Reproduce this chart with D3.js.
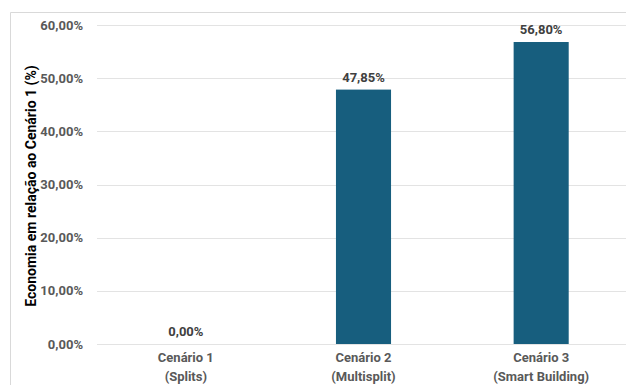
<!DOCTYPE html>
<html><head><meta charset="utf-8">
<script src="https://cdn.jsdelivr.net/npm/d3@7"></script>
<style>body{margin:0;background:#fff;} svg{display:block;}</style>
</head><body>
<script>
const categories = [["Cenário 1","(Splits)"],["Cenário 2","(Multisplit)"],["Cenário 3","(Smart Building)"]];
const values = [0.0, 47.85, 56.80];
const valueLabels = ["0,00%","47,85%","56,80%"];
const yTicks = [0,10,20,30,40,50,60];
const yTickLabels = ["0,00%","10,00%","20,00%","30,00%","40,00%","50,00%","60,00%"];
const yTitle = "Economia em relação ao Cenário 1 (%)";

(function(){
const W=626,H=385;
const svg=d3.select("body").append("svg").attr("width",W).attr("height",H);
const font="Roboto, 'Noto Sans', sans-serif";
svg.append("path").attr("d",`M10.5,${H}V12.5H${W}`).attr("fill","none").attr("stroke","#d9d9d9");

const mL=97, mR=630, mT=25, mB=344;
const x=d3.scaleBand().domain(d3.range(categories.length)).range([mL,mR]).paddingInner(0.69).paddingOuter(0.345);
const y=d3.scaleLinear().domain([0,60]).range([mB,mT]);

const g=svg.append("g");
g.selectAll("line.grid").data(yTicks).join("line")
 .attr("x1",mL).attr("x2",W).attr("y1",d=>Math.round(y(d))+0.5).attr("y2",d=>Math.round(y(d))+0.5)
 .attr("stroke","#e3e3e3").attr("stroke-width",1);

g.selectAll("text.yt").data(yTicks).join("text")
 .attr("x",83).attr("y",d=>y(d)+4.5).attr("text-anchor","end")
 .attr("font-family",font).attr("font-weight","bold").attr("font-size",13).attr("fill","#595959")
 .text((d,i)=>yTickLabels[i]);

g.selectAll("rect.bar").data(values).join("rect")
 .attr("x",(d,i)=>x(i)).attr("width",x.bandwidth())
 .attr("y",d=>y(d)).attr("height",d=>y(0)-y(d)).attr("fill","#175e7e");

g.selectAll("text.vl").data(values).join("text")
 .attr("x",(d,i)=>x(i)+x.bandwidth()/2).attr("y",d=>y(d)-8)
 .attr("text-anchor","middle").attr("font-family",font).attr("font-weight","bold").attr("font-size",13).attr("fill","#404040")
 .text((d,i)=>valueLabels[i]);

const cl=g.selectAll("text.cat").data(categories).join("text")
 .attr("text-anchor","middle").attr("font-family",font).attr("font-weight","bold").attr("font-size",13).attr("fill","#595959");
cl.each(function(d,i){
  const t=d3.select(this);
  d.forEach((line,j)=>t.append("tspan").attr("x",x(i)+x.bandwidth()/2).attr("y",362+j*19).text(line));
});

svg.append("text").attr("transform",`translate(36,186) rotate(-90)`).attr("text-anchor","middle")
 .attr("font-family",font).attr("font-weight","bold").attr("font-size",14).attr("fill","#000")
 .text(yTitle);
})();
</script>
</body></html>
